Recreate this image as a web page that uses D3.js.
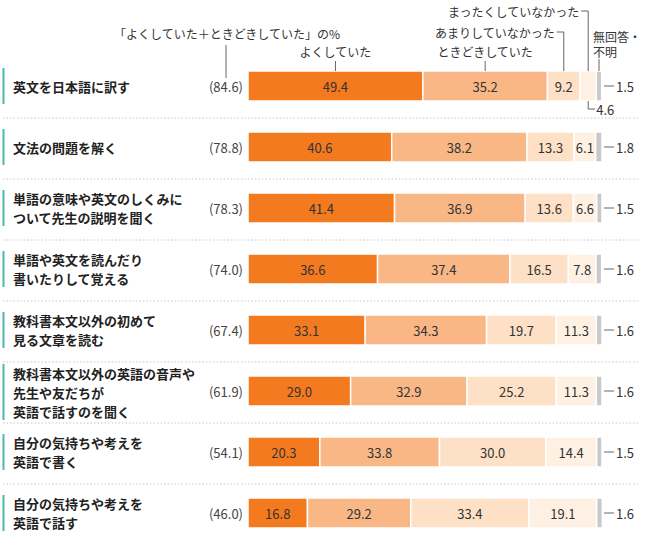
<!DOCTYPE html>
<html>
<head>
<meta charset="utf-8">
<script src="https://cdn.jsdelivr.net/npm/d3@7"></script>
<style>
  html, body { margin: 0; padding: 0; background: #fff; }
  svg { display: block; font-family: "Noto Sans CJK JP", "Noto Sans", sans-serif; }
</style>
</head>
<body>
<svg id="chart" width="650" height="549"></svg>
<script>
// ---- data ----
const categories = [
  "英文を日本語に訳す",
  "文法の問題を解く",
  "単語の意味や英文のしくみに\nついて先生の説明を聞く",
  "単語や英文を読んだり\n書いたりして覚える",
  "教科書本文以外の初めて\n見る文章を読む",
  "教科書本文以外の英語の音声や\n先生や友だちが\n英語で話すのを聞く",
  "自分の気持ちや考えを\n英語で書く",
  "自分の気持ちや考えを\n英語で話す"
];
const seriesNames = ["よくしていた", "ときどきしていた", "あまりしていなかった", "まったくしていなかった", "無回答・不明"];
const often     = [49.4, 40.6, 41.4, 36.6, 33.1, 29.0, 20.3, 16.8];
const sometimes = [35.2, 38.2, 36.9, 37.4, 34.3, 32.9, 33.8, 29.2];
const rarely    = [9.2, 13.3, 13.6, 16.5, 19.7, 25.2, 30.0, 33.4];
const never     = [4.6, 6.1, 6.6, 7.8, 11.3, 11.3, 14.4, 19.1];
const noAnswer  = [1.5, 1.8, 1.5, 1.6, 1.6, 1.6, 1.5, 1.6];
const oftenPlusSometimes = ["84.6", "78.8", "78.3", "74.0", "67.4", "61.9", "54.1", "46.0"];
const headerNote = "「よくしていた＋ときどきしていた」の%";

const colors = ["#f47a20", "#f8b785", "#fde0c6", "#fef0e3", "#c9c9c9"];
const seriesValues = [often, sometimes, rarely, never, noAnswer];

const svg = d3.select("#chart");
const x = d3.scaleLinear().domain([0, 100]).range([248, 602]);
const y = d3.scaleBand().domain(categories).range([55.5, 543.5]).padding(0);
const barH = 30;
const cy = c => y(c) + y.bandwidth() / 2;
const textColor = "#333";
const leader = "#666";

// rows data
const rows = categories.map((c, i) => {
  let acc = 0;
  const segs = seriesValues.map((arr, k) => {
    const s = { k, v: arr[i], x0: acc, x1: acc + arr[i] };
    acc += arr[i];
    return s;
  });
  return { c, i, segs };
});

// separators
for (let i = 0; i < categories.length - 1; i++) {
  const ys = (cy(categories[i]) + cy(categories[i + 1])) / 2 + 1.5;
  svg.append("line")
    .attr("x1", 3).attr("x2", 638).attr("y1", ys).attr("y2", ys)
    .attr("stroke", "#c8c8c8").attr("stroke-width", 1)
    .attr("stroke-dasharray", "1.5,2");
}

// left labels + accent bars
const lineH = 19;
rows.forEach(r => {
  const lines = r.c.split("\n");
  const yc = cy(r.c);
  const n = lines.length;
  const accH = n === 3 ? 56 : 36;
  svg.append("rect")
    .attr("x", 2.5).attr("y", yc - accH / 2 + (n === 3 ? 1 : 0)).attr("width", 2).attr("height", accH)
    .attr("fill", "#4fb9a8");
  const t = svg.append("text")
    .attr("x", 13).attr("fill", "#222")
    .attr("font-size", 13).attr("font-weight", 700);
  lines.forEach((ln, j) => {
    t.append("tspan")
      .attr("x", 13)
      .attr("y", yc + (j - (n - 1) / 2) * lineH + (n === 3 ? 1 : 0))
      .attr("dominant-baseline", "central")
      .text(ln);
  });
  // parenthetical
  svg.append("text")
    .attr("x", 243).attr("y", yc)
    .attr("text-anchor", "end").attr("dominant-baseline", "central")
    .attr("font-size", 13).attr("fill", "#444")
    .text("(" + oftenPlusSometimes[r.i] + ")");
});

// bars
rows.forEach(r => {
  const yc = cy(r.c);
  const g = svg.append("g");
  g.selectAll("rect").data(r.segs).join("rect")
    .attr("x", d => x(d.x0))
    .attr("y", yc - barH / 2)
    .attr("width", d => Math.max(0, x(d.x1) - x(d.x0)))
    .attr("height", barH)
    .attr("fill", d => colors[d.k])
    .attr("stroke", "#fff").attr("stroke-width", 1.5);
  g.selectAll("text").data(r.segs.filter(d => d.k < 4 && d.v >= 5)).join("text")
    .attr("x", d => (x(d.x0) + x(d.x1)) / 2)
    .attr("y", yc)
    .attr("text-anchor", "middle").attr("dominant-baseline", "central")
    .attr("font-size", 13).attr("fill", textColor)
    .text(d => d.v.toFixed(1));
  // no-answer label at right
  g.append("line")
    .attr("x1", 604).attr("x2", 614).attr("y1", yc).attr("y2", yc)
    .attr("stroke", leader).attr("stroke-width", 1);
  g.append("text")
    .attr("x", 616).attr("y", yc)
    .attr("dominant-baseline", "central")
    .attr("font-size", 13).attr("fill", textColor)
    .text(r.segs[4].v.toFixed(1));
});

// small segment below first row (value < 5)
{
  const r = rows[0];
  const yc = cy(r.c);
  const s = r.segs[3];
  const sx = (x(s.x0) + x(s.x1)) / 2;
  if (s.v < 5) {
    svg.append("path")
      .attr("d", `M${sx},${yc + barH / 2}V${yc + 23}H${sx + 7}`)
      .attr("fill", "none").attr("stroke", leader).attr("stroke-width", 1);
    svg.append("text")
      .attr("x", sx + 8).attr("y", yc + 23)
      .attr("dominant-baseline", "central")
      .attr("font-size", 13).attr("fill", textColor)
      .text(s.v.toFixed(1));
  }
}

// header annotations (series legend on first row)
{
  const r = rows[0];
  const top = cy(r.c) - barH / 2;
  const fs = 12;
  const segMid = k => (x(r.segs[k].x0) + x(r.segs[k].x1)) / 2;

  // total note
  svg.append("text").attr("x", 227).attr("y", 33)
    .attr("text-anchor", "middle").attr("dominant-baseline", "central")
    .attr("font-size", fs).attr("fill", textColor).text(headerNote);
  svg.append("line").attr("x1", 226).attr("x2", 226).attr("y1", 45).attr("y2", 78)
    .attr("stroke", leader);

  // よくしていた / ときどきしていた
  [0, 1].forEach(k => {
    const mx = segMid(k);
    svg.append("text").attr("x", mx).attr("y", 51.5)
      .attr("text-anchor", "middle").attr("dominant-baseline", "central")
      .attr("font-size", fs).attr("fill", textColor).text(seriesNames[k]);
    svg.append("line").attr("x1", mx).attr("x2", mx).attr("y1", 61).attr("y2", top)
      .attr("stroke", leader);
  });

  // あまり / まったく with elbow leaders
  [[2, 32], [3, 11]].forEach(([k, ty]) => {
    const mx = segMid(k);
    svg.append("text").attr("x", mx - 9).attr("y", ty)
      .attr("text-anchor", "end").attr("dominant-baseline", "central")
      .attr("font-size", fs).attr("fill", textColor).text(seriesNames[k]);
    svg.append("path").attr("d", `M${mx - 7},${ty}H${mx}V${top}`)
      .attr("fill", "none").attr("stroke", leader);
  });

  // 無回答・不明
  const gx = segMid(4);
  const t = svg.append("text").attr("x", gx - 6)
    .attr("font-size", fs).attr("fill", textColor);
  t.append("tspan").attr("x", gx - 6).attr("y", 36).attr("dominant-baseline", "central").text("無回答・");
  t.append("tspan").attr("x", gx - 6).attr("y", 51.5).attr("dominant-baseline", "central").text("不明");
  svg.append("line").attr("x1", gx).attr("x2", gx).attr("y1", 59).attr("y2", top)
    .attr("stroke", leader);
}
</script>
</body>
</html>
